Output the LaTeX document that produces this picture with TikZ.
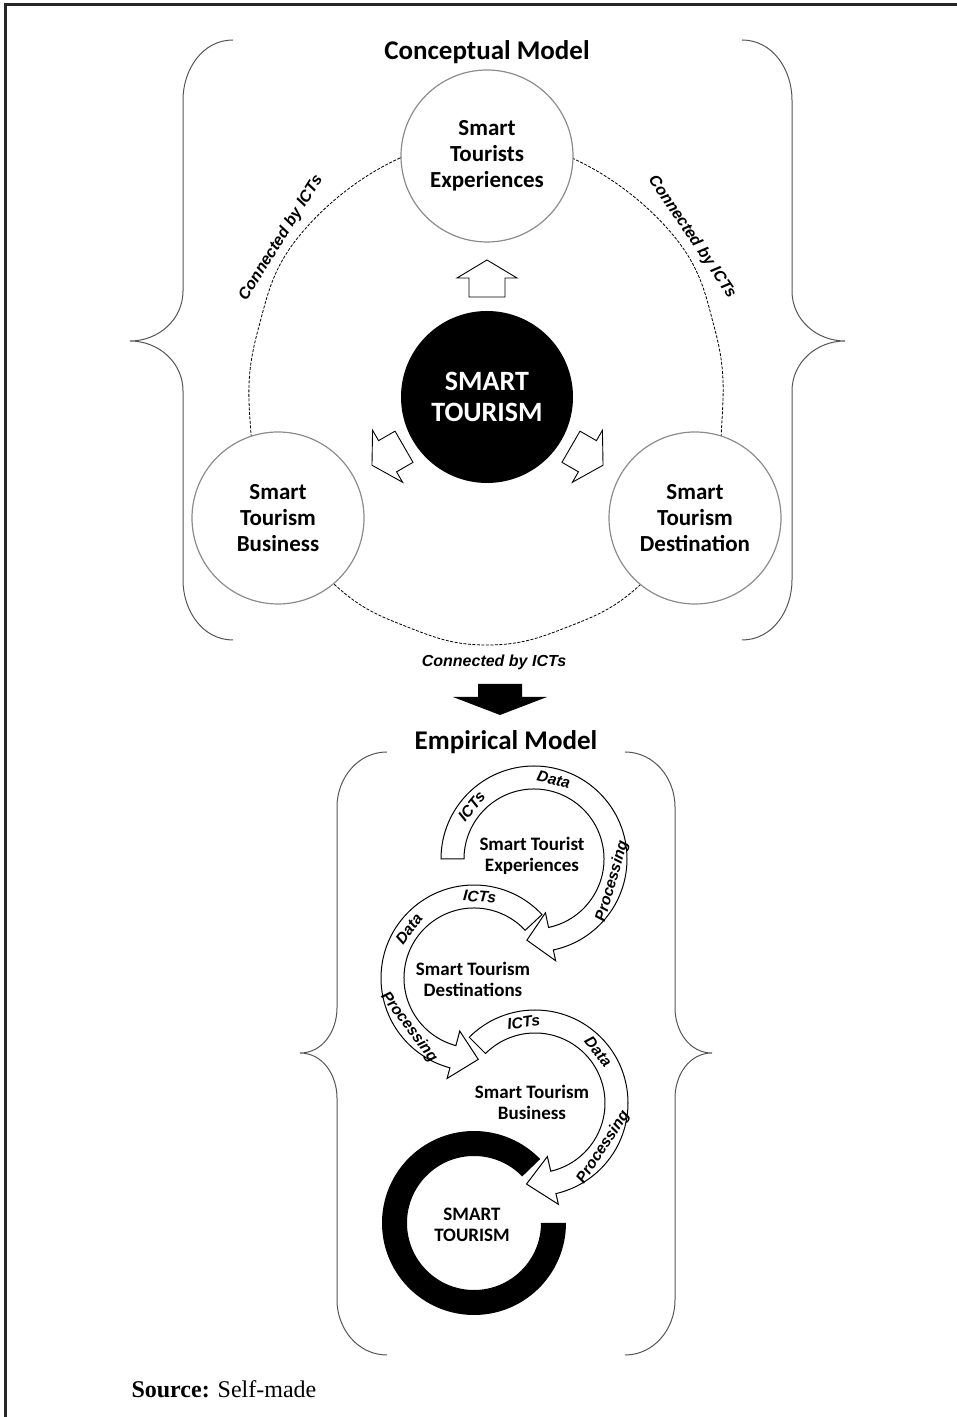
\documentclass[tikz,border=0pt]{standalone}
\usepackage{fontspec}
\usepackage{xcolor}
\usepackage{tikz}
\setmainfont{Liberation Serif}
\newfontfamily\calfont{Carlito}
\newfontfamily\arifont{Liberation Sans}
\definecolor{circgray}{RGB}{140,140,140}
\definecolor{bracegray}{RGB}{85,85,85}
\newcommand{\blockarrow}[2]{\draw[blockarr, shift={#1}, rotate=#2] (-18.5,-18) -- (0.5,-18) -- (0.5,-30) -- (18.5,0) -- (0.5,30) -- (0.5,18) -- (-18.5,18) -- cycle;}
\newcommand{\cyclearrow}[3]{\draw[cyclearr] (#1:93) arc[start angle=#1, end angle=#2, radius=93] -- (#2:104) -- (#3:81.5) -- (#2:55) -- (#2:70) arc[start angle=#2, end angle=#1, radius=70] -- cycle;}

\begin{document}
\begin{tikzpicture}[x=1pt, y=1pt,
    conc/.style={draw=circgray, fill=white, line width=1.2pt, circle, minimum size=172pt, inner sep=0pt, align=center, font=\calfont\bfseries\fontsize{23}{26}\selectfont},
    core/.style={fill=black, circle, minimum size=172pt, inner sep=0pt, align=center, text=white, font=\calfont\bfseries\fontsize{28}{31}\selectfont},
    title/.style={font=\calfont\bfseries\fontsize{27}{30}\selectfont},
    emptext/.style={align=center, font=\calfont\bfseries\fontsize{19}{21}\selectfont},
    icts/.style={dash pattern=on 3pt off 1.5pt, line width=0.8pt},
    ictslabel/.style={inner sep=0pt, font=\arifont\bfseries\itshape\fontsize{16}{19}\selectfont},
    arclabel/.style={inner sep=0pt, font=\arifont\bfseries\itshape\fontsize{15.5}{17}\selectfont},
    blockarr/.style={draw=black, fill=white, line width=0.9pt},
    cyclearr/.style={draw=black, fill=white, line width=1pt},
    brace/.style={draw=bracegray, line width=1pt}]
    \useasboundingbox (0,0) rectangle (957,1417);
    \draw[line width=3pt, draw=black!85] (5,0) -- (5,1412) -- (957,1412);

    \node[title] (concept) at (487,1365) {Conceptual Model};
    \draw[brace] (233,1377) to[out=180,in=90] (183,1317) -- (183,1126) to[out=-90,in=0] (130,1076) to[out=0,in=90] (183,1026) -- (183,837) to[out=-90,in=180] (233,777);
    \draw[brace] (742,1377) to[out=0,in=90] (792,1317) -- (792,1126) to[out=-90,in=180] (845,1076) to[out=180,in=90] (792,1026) -- (792,837) to[out=-90,in=0] (742,777);
    \draw[icts] plot[smooth cycle, tension=0.7] coordinates {(487,1267) (400,1259) (300,1182) (258,1087) (250,997) (270,917) (335,832) (410,789) (487,772) (565,789) (640,832) (705,917) (722,997) (715,1087) (673,1182) (572,1259)};
    \node[conc] (ste) at (487,1261) {Smart\\Tourists\\Experiences};
    \node[conc] (stb) at (278,899) {Smart\\Tourism\\Business};
    \node[conc] (std) at (695,899) {Smart\\Tourism\\Destination};
    \node[core] (st) at (487,1020) {SMART\\TOURISM};
    \blockarrow{(487,1138.5)}{90}
    \blockarrow{(388,961)}{210}
    \blockarrow{(587,961)}{-30}
    \node[ictslabel, rotate=58] (ictsleft) at (281,1179) {Connected by ICTs};
    \node[ictslabel, rotate=-56] (ictsright) at (692,1180) {Connected by ICTs};
    \node[ictslabel] (ictsbottom) at (494,755) {Connected by ICTs};
    \fill (478,733) -- (522,733) -- (522,720) -- (547,720) -- (500,702) -- (453,720) -- (478,720) -- cycle;

    \node[title] (empiric) at (506,675) {Empirical Model};
    \draw[brace] (387,665) to[out=180,in=90] (337,610) -- (337,409) to[out=-90,in=0] (300,364) to[out=0,in=90] (337,319) -- (337,117) to[out=-90,in=180] (387,62);
    \draw[brace] (625,665) to[out=0,in=90] (675,610) -- (675,409) to[out=-90,in=180] (712,364) to[out=180,in=90] (675,319) -- (675,117) to[out=-90,in=0] (625,62);
    \begin{scope}[shift={(534,558)}]
        \cyclearrow{180}{-78}{-95}
        \node[arclabel, rotate=50] (ictsa) at (140:81.5) {ICTs};
        \node[arclabel, rotate=-14] (dataa) at (76:81.5) {Data};
        \node[arclabel, rotate=74] (proca) at (-16:81.5) {Processing};
    \end{scope}
    \begin{scope}[shift={(474,439)}]
        \cyclearrow{43}{255}{273}
        \node[arclabel, rotate=-4] (ictsb) at (86:81.5) {ICTs};
        \node[arclabel, rotate=53] (datab) at (143:81.5) {Data};
        \node[arclabel, rotate=307] (procb) at (217:81.5) {Processing};
    \end{scope}
    \begin{scope}[shift={(535,314)}]
        \cyclearrow{135}{-77}{-96}
        \node[arclabel, rotate=8] (ictsc) at (98:81.5) {ICTs};
        \node[arclabel, rotate=-51] (datac) at (39:81.5) {Data};
        \node[arclabel, rotate=57] (procc) at (-33:81.5) {Processing};
    \end{scope}
    \fill[shift={(474,194)}] (44:92) arc[start angle=44, end angle=360, radius=92] -- (360:67) arc[start angle=360, end angle=44, radius=67] -- cycle;
    \node[emptext] (tourexp) at (532,561) {Smart Tourist\\Experiences};
    \node[emptext] (tourdest) at (473,438) {Smart Tourism\\Destinations};
    \node[emptext] (tourbiz) at (532,315) {Smart Tourism\\Business};
    \node[emptext] (tourcore) at (472,192) {SMART\\TOURISM};

    \node[anchor=west, font=\fontsize{24}{28}\selectfont] (src) at (128,28) {\textbf{Source:} Self-made};
\end{tikzpicture}
\end{document}
